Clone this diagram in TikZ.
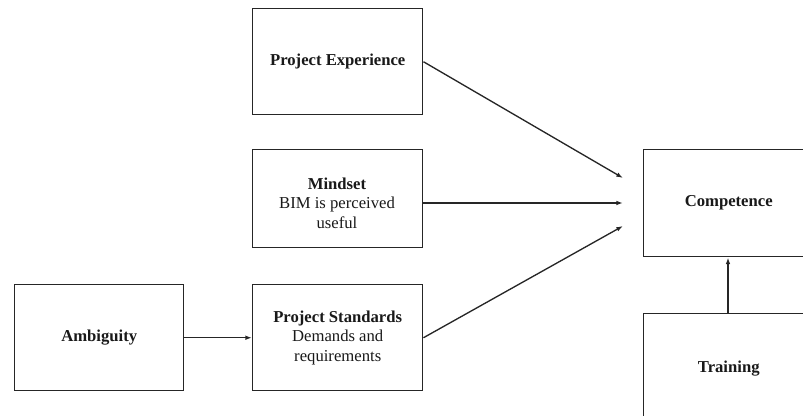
\documentclass[tikz,border=0pt]{standalone}
\usepackage{fontspec}
\setmainfont{Liberation Serif}
\usetikzlibrary{arrows.meta}
\begin{document}
\begin{tikzpicture}[x=0.75pt,y=-0.75pt,
  txt/.style={inner sep=0pt,align=center,font=\fontsize{12.5}{14.6}\selectfont,text=black!90},
  box/.style={txt,draw=black!85,line width=1.1pt,fill=white,minimum width=170*0.75pt},
  conn/.style={draw=black!85,line width=1pt,-{Latex[length=5pt,width=3.5pt]}}]
\useasboundingbox (0,0) rectangle (803,416);
\clip (0,0) rectangle (803,416);
\node[box,minimum height=106*0.75pt,anchor=north west] (pe) at (252,8) {\textbf{Project Experience}};
\node[box,minimum height=98*0.75pt,anchor=north west] (ms) at (252,149) {};
\node[txt] (mst) at (337,203) {\textbf{Mindset}\\BIM is perceived\\useful};
\node[box,minimum width=169*0.75pt,minimum height=106*0.75pt,anchor=north west] (amb) at (14,284) {\textbf{Ambiguity}};
\node[box,minimum height=106*0.75pt,anchor=north west] (ps) at (252,284) {\textbf{Project Standards}\\Demands and\\requirements};
\node[box,minimum height=107*0.75pt,anchor=north west,text width=170*0.75pt] (comp) at (643,149) {\textbf{Competence}};
\node[box,minimum height=110*0.75pt,anchor=north west,text width=170*0.75pt] (tr) at (643,313) {\textbf{Training}};
\coordinate (t1) at (623,178);
\coordinate (t2) at (623,203);
\coordinate (t3) at (623,226);
\draw[conn] (pe.east) -- (t1);
\draw[conn] (ms.east |- t2) -- (t2);
\draw[conn] (ps.east) -- (t3);
\draw[conn] (amb.east) -- (ps.west);
\draw[conn] (tr.north -| 728,0) -- (comp.south -| 728,0);
\end{tikzpicture}
\end{document}
